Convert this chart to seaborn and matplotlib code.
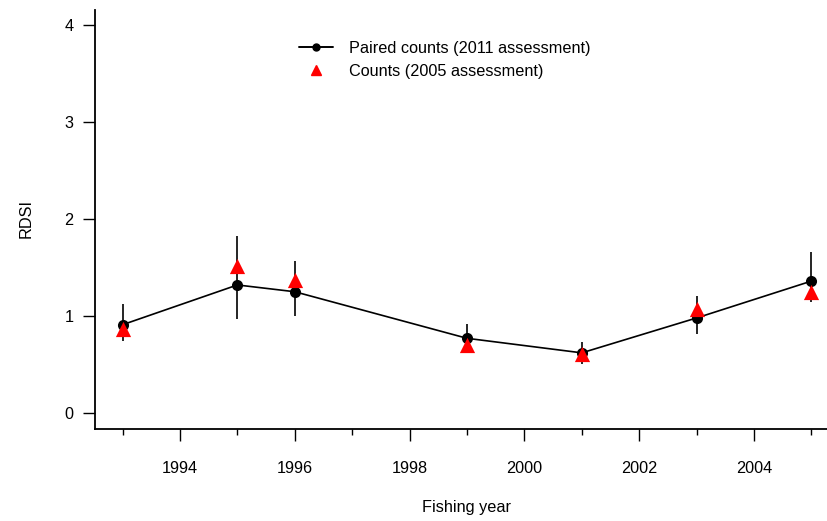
import numpy as np
import pandas as pd
import matplotlib
matplotlib.use('Agg')
import matplotlib.pyplot as plt
from matplotlib.lines import Line2D
import seaborn as sns

# Values
years = [1993, 1995, 1996, 1999, 2001, 2003, 2005]
paired_rdsi = [0.91, 1.32, 1.25, 0.77, 0.62, 0.98, 1.36]
paired_low = [0.74, 0.97, 1.00, 0.65, 0.51, 0.81, 1.14]
paired_high = [1.12, 1.82, 1.57, 0.92, 0.73, 1.21, 1.66]
counts_rdsi = [0.87, 1.52, 1.37, 0.70, 0.61, 1.07, 1.25]

paired = pd.DataFrame({'year': years, 'rdsi': paired_rdsi,
                       'low': paired_low, 'high': paired_high})
counts = pd.DataFrame({'year': years, 'rdsi': counts_rdsi})

sns.set_style('ticks')
plt.rcParams['font.family'] = ['Liberation Sans', 'DejaVu Sans']
plt.rcParams['text.color'] = 'black'
plt.rcParams['axes.labelcolor'] = 'black'
fs = 11.7

fig = plt.figure(figsize=(8.27, 5.21), dpi=100)
ax = fig.add_axes([95 / 827, 1 - 428.5 / 521, (839 - 95) / 827, 419 / 521])

# error bars
ax.vlines(paired['year'], paired['low'], paired['high'], color='black', lw=1.2, zorder=2)

sns.lineplot(data=paired, x='year', y='rdsi', color='black', lw=1.2,
             marker='o', markersize=8, markeredgewidth=0, ax=ax, zorder=3)
sns.scatterplot(data=counts, x='year', y='rdsi', color='red', marker='^',
                s=120, linewidth=0, ax=ax, zorder=4)

ax.set_xlim(1992.52, 2005.48)
ax.set_ylim(-0.16, 4.16)
ax.set_xticks([1994, 1996, 1998, 2000, 2002, 2004])
ax.set_xticks([1993, 1995, 1997, 1999, 2001, 2003, 2005], minor=True)
ax.set_yticks([0, 1, 2, 3, 4])

sns.despine(ax=ax)
for s in ['left', 'bottom']:
    ax.spines[s].set_linewidth(1.3)
    ax.spines[s].set_color('black')

ax.tick_params(axis='both', which='major', direction='out', length=8.6, width=1.0,
               color='black', labelsize=fs, labelcolor='black')
ax.tick_params(axis='x', which='major', pad=15)
ax.tick_params(axis='y', which='major', pad=7)
ax.tick_params(axis='x', which='minor', direction='out', length=4.3, width=1.0, color='black')

ax.set_xlabel('Fishing year', fontsize=fs, labelpad=17)
ax.set_ylabel('RDSI', fontsize=fs, labelpad=22)

handles = [Line2D([], [], color='black', lw=1.4, marker='o', markersize=5),
           Line2D([], [], color='red', lw=0, marker='^', markersize=7)]
labels = ['Paired counts (2011 assessment)', 'Counts (2005 assessment)']
ax.legend(handles, labels, loc='upper left', bbox_to_anchor=(299 / 827, 1 - 41 / 521),
          bbox_transform=fig.transFigure, frameon=False, fontsize=fs,
          handlelength=2.1, handletextpad=1.0, labelspacing=0.5,
          borderpad=0, borderaxespad=0)

fig.savefig('out.png', dpi=100)
